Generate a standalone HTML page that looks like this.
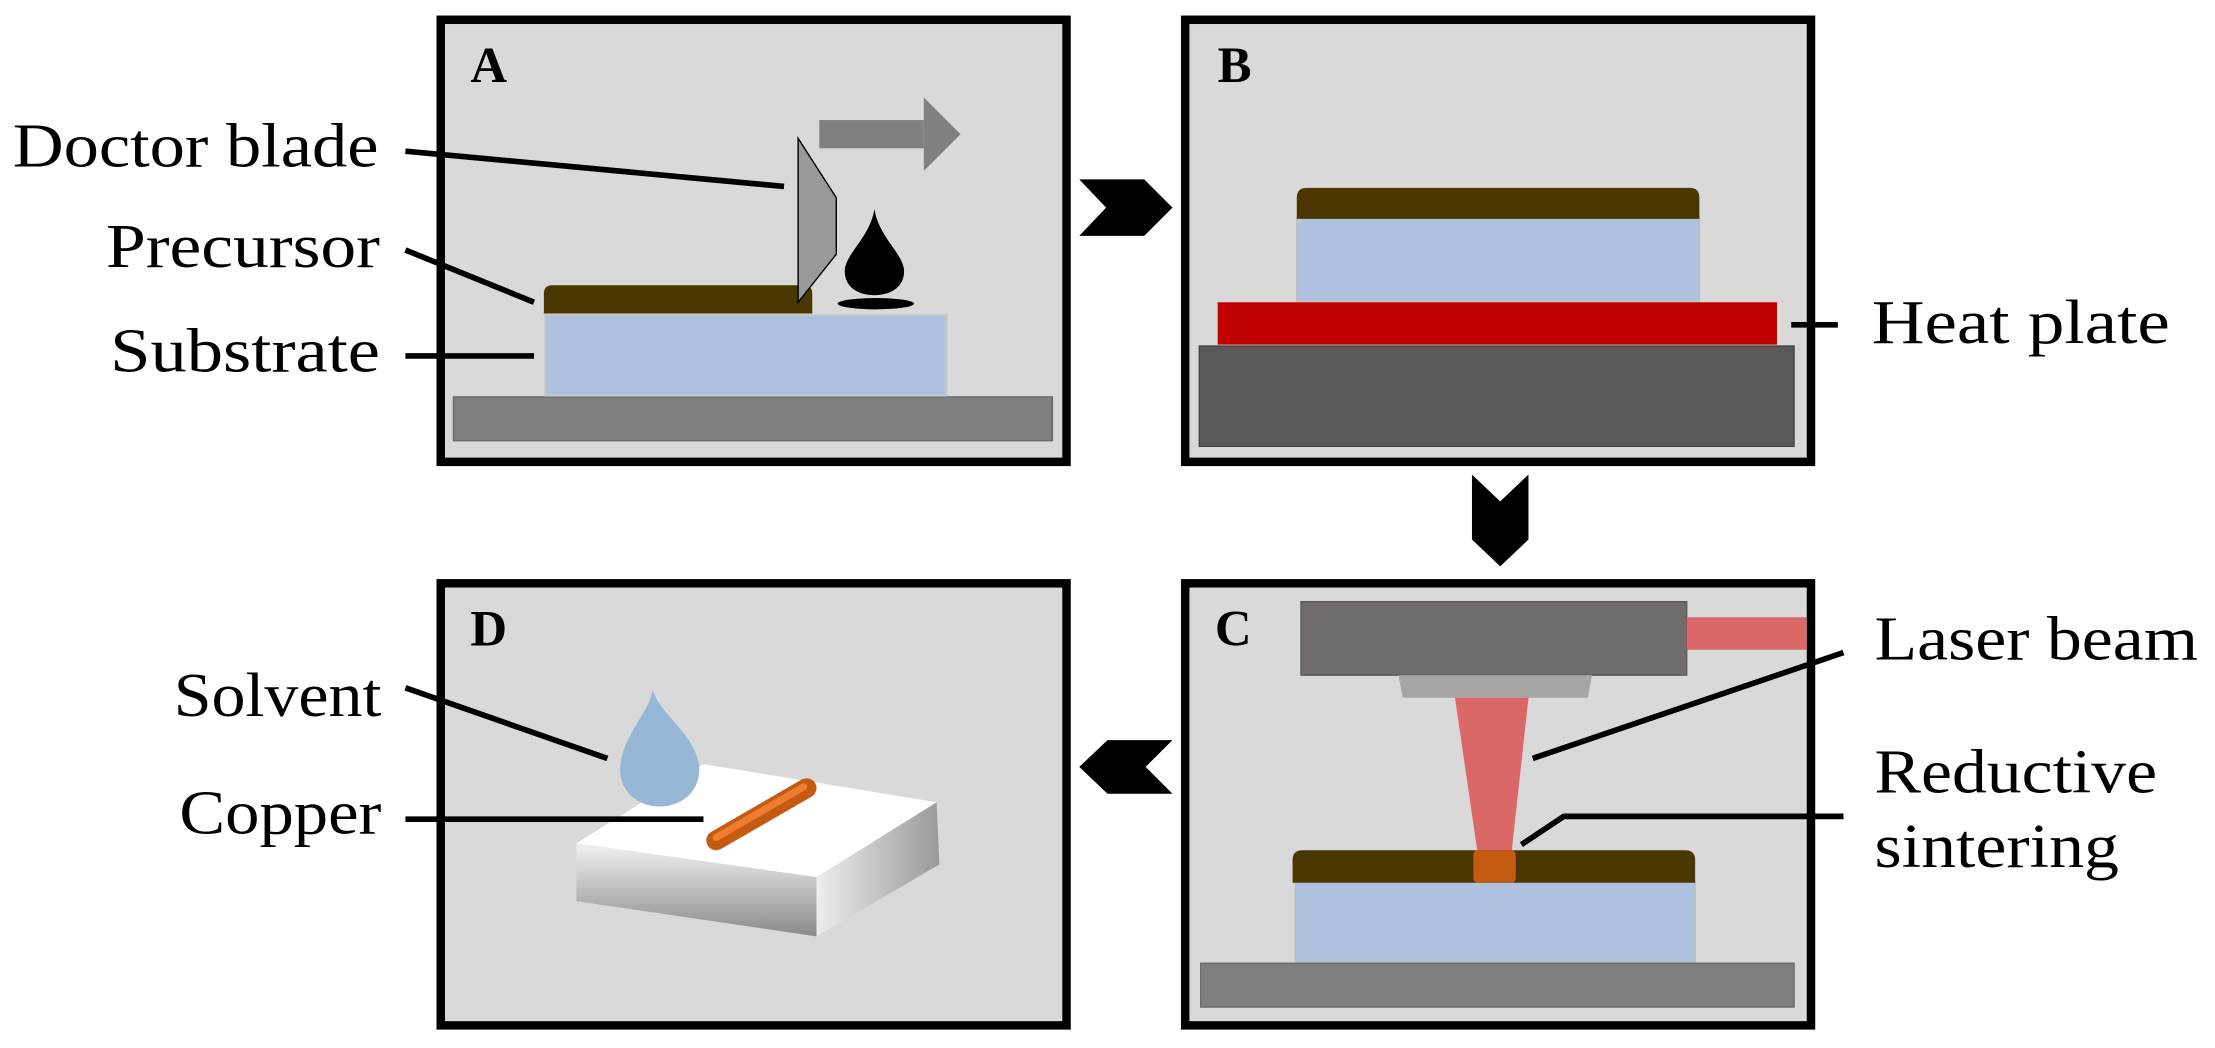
<!DOCTYPE html>
<html><head><meta charset="utf-8"><style>
html,body{margin:0;padding:0;background:#fff;}
svg{display:block;}
text{font-family:"Liberation Serif",serif;fill:#000;}
</style></head><body>
<svg width="2215" height="1048" viewBox="0 0 1568 742" preserveAspectRatio="none" xmlns="http://www.w3.org/2000/svg">
<defs>
<linearGradient id="side1" x1="0" y1="0" x2="0" y2="1"><stop offset="0" stop-color="#f2f2f2"/><stop offset="1" stop-color="#8a8a8a"/></linearGradient>
<linearGradient id="side2" x1="0" y1="0" x2="1" y2="0"><stop offset="0" stop-color="#eeeeee"/><stop offset="1" stop-color="#999"/></linearGradient>
</defs>
<!-- Panels -->
<rect x="312" y="14" width="443" height="313" fill="#d9d9d9" stroke="#000" stroke-width="6"/>
<rect x="839" y="14" width="443" height="313" fill="#d9d9d9" stroke="#000" stroke-width="6"/>
<rect x="312" y="413" width="443" height="313" fill="#d9d9d9" stroke="#000" stroke-width="6"/>
<rect x="839" y="413" width="443" height="313" fill="#d9d9d9" stroke="#000" stroke-width="6"/>

<!-- Chevrons -->
<polygon points="764,127 810,127 830,147 810,167 764,167 783,147" fill="#000"/>
<polygon points="1042,336 1062,355 1082,336 1082,382 1062,401 1042,382" fill="#000"/>
<polygon points="830,524 784,524 764,543 784,562 830,562 811,543" fill="#000"/>

<!-- Panel A -->
<text x="333" y="58" font-size="36" font-weight="bold">A</text>
<rect x="321" y="281" width="424" height="31" fill="#7f7f7f" stroke="#6a6a6a" stroke-width="1"/>
<rect x="386" y="223" width="284" height="57" fill="#aec2e0" stroke="#c8c8c8" stroke-width="1.5"/>
<path d="M385,222 L385,208 Q385,202 391,202 L569,202 Q575,202 575,208 L575,222 Z" fill="#4a3600"/>
<polygon points="565,98 592,140 592,180 565,214" fill="#999" stroke="#000" stroke-width="1"/>
<rect x="580" y="85" width="74" height="20" fill="#808080"/>
<polygon points="654,69 680,95 654,121" fill="#808080"/>
<path d="M619,148 C622,168 640,180 640,192 C640,203 631,209 619,209 C607,209 598,203 598,192 C598,180 616,168 619,148 Z" fill="#000"/>
<ellipse cx="620" cy="215" rx="27" ry="4" fill="#000"/>
<line x1="287" y1="107" x2="555" y2="132" stroke="#000" stroke-width="4"/>
<line x1="287" y1="177" x2="378" y2="214" stroke="#000" stroke-width="4"/>
<line x1="287" y1="252" x2="378" y2="252" stroke="#000" stroke-width="4"/>
<text x="9" y="118" font-size="44" textLength="259" lengthAdjust="spacingAndGlyphs">Doctor blade</text>
<text x="75" y="189" font-size="44" textLength="194" lengthAdjust="spacingAndGlyphs">Precursor</text>
<text x="78" y="263" font-size="44" textLength="191" lengthAdjust="spacingAndGlyphs">Substrate</text>

<!-- Panel B -->
<text x="862" y="58" font-size="36" font-weight="bold">B</text>
<rect x="849" y="245" width="421" height="71" fill="#595959" stroke="#444" stroke-width="1"/>
<rect x="862" y="214" width="396" height="30" fill="#c00000"/>
<rect x="918" y="154" width="285" height="59" fill="#aec2e0" stroke="#bbb" stroke-width="1"/>
<path d="M918,155 L918,140 Q918,133 925,133 L1196,133 Q1203,133 1203,140 L1203,155 Z" fill="#4a3600"/>
<line x1="1268" y1="230" x2="1301" y2="230" stroke="#000" stroke-width="4"/>
<text x="1325" y="243" font-size="44" textLength="211" lengthAdjust="spacingAndGlyphs">Heat plate</text>

<!-- Panel C -->
<text x="860" y="457" font-size="36" font-weight="bold">C</text>
<rect x="921" y="426" width="273" height="52" fill="#716d6c" stroke="#5a5a5a" stroke-width="1"/>
<rect x="1194" y="437" width="85" height="23" fill="#db6868"/>
<polygon points="990,478 1127,478 1124,494 993,494" fill="#a8a5a5"/>
<polygon points="1030,494 1082,494 1070,604 1046,604" fill="#db6868"/>
<rect x="850" y="682" width="420" height="31" fill="#7f7f7f" stroke="#6a6a6a" stroke-width="1"/>
<rect x="917" y="624" width="283" height="57" fill="#aec2e0" stroke="#bbb" stroke-width="1"/>
<path d="M915,625 L915,609 Q915,602 922,602 L1193,602 Q1200,602 1200,609 L1200,625 Z" fill="#4a3600"/>
<rect x="1043" y="602" width="30" height="23" rx="3" fill="#c55a11"/>
<line x1="1085" y1="537" x2="1305" y2="462" stroke="#000" stroke-width="4"/>
<polyline points="1077,598 1107,578 1305,578" fill="none" stroke="#000" stroke-width="4"/>
<text x="1327" y="467" font-size="44" textLength="229" lengthAdjust="spacingAndGlyphs">Laser beam</text>
<text x="1327" y="561" font-size="44" textLength="200" lengthAdjust="spacingAndGlyphs">Reductive</text>
<text x="1327" y="614" font-size="44" textLength="173" lengthAdjust="spacingAndGlyphs">sintering</text>

<!-- Panel D -->
<text x="333" y="457" font-size="36" font-weight="bold">D</text>
<polygon points="408,597 578,621 578,663 408,638" fill="url(#side1)"/>
<polygon points="578,621 663,568 665,612 578,663" fill="url(#side2)"/>
<polygon points="408,597 498,541 663,568 578,621" fill="#fff"/>
<line x1="507" y1="595" x2="571" y2="558" stroke="#c55a11" stroke-width="14" stroke-linecap="round"/>
<line x1="507" y1="593" x2="569" y2="557" stroke="#ed7d31" stroke-width="5" stroke-linecap="round"/>
<path d="M462,488 C466,505 495,522 495,545 C495,561 482,571 467,571 C452,571 439,561 439,545 C439,522 460,505 462,488 Z" fill="#97b7d6"/>
<line x1="287" y1="487" x2="430" y2="537" stroke="#000" stroke-width="4"/>
<line x1="287" y1="580" x2="498" y2="580" stroke="#000" stroke-width="4"/>
<text x="123" y="507" font-size="44" textLength="147" lengthAdjust="spacingAndGlyphs">Solvent</text>
<text x="127" y="590" font-size="44" textLength="143" lengthAdjust="spacingAndGlyphs">Copper</text>
</svg>
</body></html>
